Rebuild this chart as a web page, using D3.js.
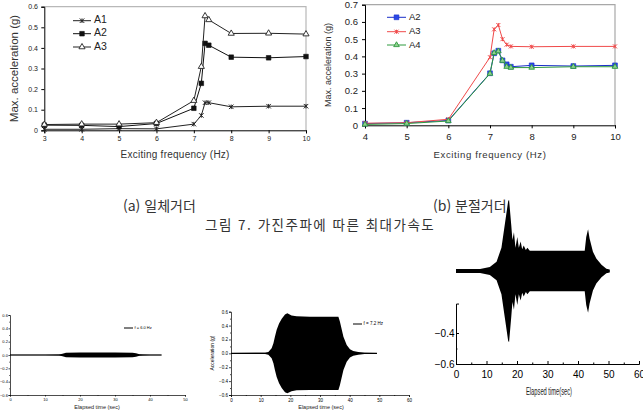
<!DOCTYPE html>
<html lang="ko">
<head>
<meta charset="UTF-8">
<title>가진주파에 따른 최대가속도</title>
<script src="https://d3js.org/d3.v7.min.js"></script>
<style>
  body { margin: 0; background: #fff; }
  svg { display: block; font-family: "Liberation Sans", Arial, sans-serif; }
  .kr { font-family: "Noto Sans CJK KR", sans-serif; }
</style>
</head>
<body>
<script>
// (a) 일체거더
const freqA = [3, 4, 5, 6, 7, 7.2, 7.3, 7.4, 8, 9, 10];
const accA1 = [0.005, 0.005, 0.008, 0.007, 0.03, 0.072, 0.134, 0.134, 0.114, 0.117, 0.117];
const accA2 = [0.025, 0.024, 0.018, 0.033, 0.107, 0.228, 0.422, 0.413, 0.355, 0.352, 0.358];
const accA3 = [0.028, 0.03, 0.03, 0.037, 0.144, 0.309, 0.555, 0.536, 0.47, 0.471, 0.467];
const xTicksA = [3, 4, 5, 6, 7, 8, 9, 10];
const yTicksA = [0, 0.1, 0.2, 0.3, 0.4, 0.5, 0.6];

// (b) 분절거더
const freqB = [4, 5, 6, 7, 7.1, 7.2, 7.3, 7.4, 7.5, 8, 9, 10];
const accB2 = [0.01, 0.015, 0.028, 0.302, 0.418, 0.433, 0.377, 0.354, 0.34, 0.348, 0.344, 0.348];
const accB3 = [0.012, 0.015, 0.035, 0.395, 0.557, 0.582, 0.5, 0.468, 0.458, 0.456, 0.458, 0.458];
const accB4 = [0.005, 0.01, 0.025, 0.3, 0.42, 0.43, 0.375, 0.34, 0.335, 0.335, 0.34, 0.34];
const xTicksB = [4, 5, 6, 7, 8, 9, 10];
const yTicksB = [0, 0.1, 0.2, 0.3, 0.4, 0.5, 0.6, 0.7];

// time histories: envelope (peak amplitude)
const timeC = [0, 10, 14, 15, 16, 20, 30, 35, 36, 37, 38, 40, 43.3];
const ampC = [0.004, 0.004, 0.006, 0.02, 0.035, 0.036, 0.036, 0.035, 0.025, 0.012, 0.008, 0.005, 0.004];
const timeD = [0, 11, 11.5, 12.6, 13.7, 14.3, 14.8, 15.4, 16.2, 17.1, 18.2, 19, 20.4, 22.1, 26.6, 36.2, 36.7, 37.9, 39, 40.1, 41.2, 42.9, 45, 49.2];
const ampD = [0.006, 0.008, 0.01, 0.02, 0.072, 0.144, 0.24, 0.34, 0.43, 0.5, 0.56, 0.576, 0.547, 0.533, 0.528, 0.528, 0.46, 0.24, 0.12, 0.058, 0.034, 0.02, 0.01, 0.006];
const timeE = [0, 7.9, 11.1, 13.3, 14.9, 16, 17.1, 17.4, 18.1, 18.5, 19, 19.5, 20.1, 20.6, 21.2, 21.7, 22.2, 22.9, 23.4, 24.2, 42.2, 42.7, 43.3, 43.8, 44.9, 46, 47.7, 49.3, 50.4];
const ampE = [0.013, 0.013, 0.026, 0.06, 0.15, 0.3, 0.45, 0.46, 0.3, 0.2, 0.25, 0.15, 0.22, 0.15, 0.19, 0.14, 0.165, 0.135, 0.15, 0.13, 0.13, 0.22, 0.27, 0.21, 0.125, 0.08, 0.04, 0.015, 0.01];
const yTicksT = [-0.6, -0.4, -0.2, 0, 0.2, 0.4, 0.6];

const svg = d3.select("body").append("svg")
    .attr("width", 643)
    .attr("height", 420);

function xMark(size) {
    const s = size / 2;
    return `M${-s},${-s}L${s},${s}M${-s},${s}L${s},${-s}M0,${-s}L0,${s}`;
}

function styleMark(sel, s) {
    if (s.mark === "x") {
        sel.attr("d", xMark(s.size)).attr("fill", "none").attr("stroke", s.color).attr("stroke-width", 1);
    } else if (s.mark === "square") {
        sel.attr("d", d3.symbol().type(d3.symbolSquare).size(s.size * s.size))
            .attr("fill", s.fill).attr("stroke", s.color).attr("stroke-width", 0.6);
    } else {
        sel.attr("d", d3.symbol().type(d3.symbolTriangle).size(s.size * s.size * 0.45))
            .attr("fill", s.fill).attr("stroke", s.color).attr("stroke-width", 0.9);
    }
}

function freqChart(o) {
    const x = d3.scaleLinear().domain(o.xDomain).range(o.xRange);
    const y = d3.scaleLinear().domain(o.yDomain).range(o.yRange);
    const g = svg.append("g");

    g.append("path")
        .attr("d", `M${o.xRange[0]},${o.yRange[1]}H${o.xRange[1]}V${o.yRange[0]}`)
        .attr("fill", "none")
        .attr("stroke", o.frame)
        .attr("stroke-width", 1.2);

    const xAxis = g.append("g")
        .attr("transform", `translate(0,${o.yRange[0]})`)
        .call(d3.axisBottom(x).tickValues(o.xTicks).tickSizeOuter(0).tickSize(3).tickPadding(o.xPad)
            .tickFormat(d3.format("d")));
    const yAxis = g.append("g")
        .attr("transform", `translate(${o.xRange[0]},0)`)
        .call(d3.axisLeft(y).tickValues(o.yTicks).tickSizeOuter(0).tickSize(3).tickPadding(o.yPad)
            .tickFormat(d => d === 0 ? "0" : d3.format(".1f")(d)));
    [xAxis, yAxis].forEach(a => {
        a.attr("font-family", null).attr("font-size", o.tickFont);
        a.selectAll("text").attr("fill", "#222");
    });

    g.append("text")
        .attr("x", (o.xRange[0] + o.xRange[1]) / 2)
        .attr("y", o.xTitleY)
        .attr("text-anchor", "middle")
        .attr("dominant-baseline", "middle")
        .attr("font-size", o.xTitleFont)
        .attr("letter-spacing", o.xTitleSpacing)
        .attr("fill", "#333")
        .text("Exciting frequency (Hz)");
    g.append("text")
        .attr("transform", `translate(${o.yTitleX},${(o.yRange[0] + o.yRange[1]) / 2}) rotate(-90)`)
        .attr("text-anchor", "middle")
        .attr("dominant-baseline", "middle")
        .attr("font-size", o.yTitleFont)
        .attr("fill", "#333")
        .text("Max. acceleration (g)");

    o.series.forEach((s, k) => {
        const pts = o.freq.map((f, i) => [f, s.values[i]]);
        g.append("path")
            .datum(pts)
            .attr("d", d3.line().x(d => x(d[0])).y(d => y(d[1])))
            .attr("fill", "none")
            .attr("stroke", s.color)
            .attr("stroke-width", 1);
        const marks = g.selectAll(null).data(pts).enter().append("path")
            .attr("transform", d => `translate(${x(d[0])},${y(d[1])})`);
        styleMark(marks, s);

        const ly = o.legendY[k];
        g.append("line")
            .attr("x1", o.legendX[0]).attr("x2", o.legendX[1])
            .attr("y1", ly).attr("y2", ly)
            .attr("stroke", s.color);
        styleMark(g.append("path").attr("transform", `translate(${(o.legendX[0] + o.legendX[1]) / 2},${ly})`), s);
        g.append("text")
            .attr("x", o.legendX[1] + 3)
            .attr("y", ly)
            .attr("dominant-baseline", "middle")
            .attr("font-size", o.legendFont)
            .attr("fill", "#222")
            .text(s.name);
    });
}

freqChart({
    freq: freqA, xDomain: [3, 10], xRange: [44.3, 306], yDomain: [0, 0.6], yRange: [130.3, 6.7],
    xTicks: xTicksA, yTicks: yTicksA, xPad: 3, yPad: 3.3, tickFont: 7, frame: "#b8b8b8",
    xTitleY: 155.5, xTitleFont: 10, xTitleSpacing: 0.25, yTitleX: 15, yTitleFont: 11.5,
    legendX: [73, 91], legendY: [20.7, 33.7, 47], legendFont: 10.5,
    series: [
        { name: "A1", values: accA1, color: "#222", mark: "x", size: 4.5 },
        { name: "A2", values: accA2, color: "#111", fill: "#111", mark: "square", size: 4.6 },
        { name: "A3", values: accA3, color: "#222", fill: "#fff", mark: "triangle", size: 6 }
    ]
});

freqChart({
    freq: freqB, xDomain: [4, 10], xRange: [365, 615], yDomain: [0, 0.7], yRange: [125.3, 4.7],
    xTicks: xTicksB, yTicks: yTicksB, xPad: 5, yPad: 4, tickFont: 9.5, frame: "#a8a8a8",
    xTitleY: 155, xTitleFont: 9.6, xTitleSpacing: 0.6, yTitleX: 329, yTitleFont: 9,
    legendX: [387, 406], legendY: [17.3, 31.7, 45], legendFont: 9.5,
    series: [
        { name: "A2", values: accB2, color: "#1a2fc8", fill: "#2a48e8", mark: "square", size: 4.8 },
        { name: "A3", values: accB3, color: "#f04a4a", mark: "x", size: 4 },
        { name: "A4", values: accB4, color: "#2f9a3e", fill: "#8fd08f", mark: "triangle", size: 5.5 }
    ]
});

// captions
svg.append("text").attr("class", "kr")
    .attr("x", 123).attr("y", 207)
    .attr("dominant-baseline", "middle")
    .attr("font-size", 14).attr("fill", "#333")
    .text("(a) 일체거더");
svg.append("text").attr("class", "kr")
    .attr("x", 433).attr("y", 207)
    .attr("dominant-baseline", "middle")
    .attr("font-size", 14).attr("fill", "#333")
    .text("(b) 분절거더");
svg.append("text").attr("class", "kr")
    .attr("x", 205).attr("y", 226)
    .attr("dominant-baseline", "middle")
    .attr("font-size", 13.5).attr("letter-spacing", 1.5).attr("fill", "#333")
    .text("그림 7. 가진주파에 따른 최대가속도");

function timeChart(o) {
    const x = d3.scaleLinear().domain(o.xDomain).range(o.xRange);
    const y = d3.scaleLinear().domain([-0.6, 0.6]).range(o.yRange);
    const g = svg.append("g");
    const pts = o.time.map((t, i) => [t, o.amp[i]]);

    g.append("path")
        .datum(pts)
        .attr("d", d3.area().x(d => x(d[0])).y0(d => y(-d[1])).y1(d => y(d[1])))
        .attr("fill", "#000");
    g.append("line")
        .attr("x1", x(o.time[0])).attr("x2", x(o.time[o.time.length - 1]))
        .attr("y1", y(0)).attr("y2", y(0))
        .attr("stroke", "#000").attr("stroke-width", o.baseW);

    // right-hand plot only shows the lower part of its y axis
    const yAx = o.yAxisDomain ? d3.scaleLinear().domain(o.yAxisDomain).range(o.yAxisDomain.map(y)) : y;
    const xTicks = d3.range(o.xDomain[0], o.xDomain[1] + 1, 10);
    const xMinor = d3.range(o.xDomain[0] + 5, o.xDomain[1], 10);
    const yTicks = o.yTicks.filter(v => v >= yAx.domain()[0] - 1e-9 && v <= yAx.domain()[1] + 1e-9);
    const yMinor = yTicks.slice(0, -1).map(v => v + 0.1).filter(v => v <= yAx.domain()[1]);

    const gx = g.append("g").attr("transform", `translate(0,${o.yRange[0]})`);
    gx.call(d3.axisBottom(x).tickValues(xTicks).tickSizeOuter(0).tickSize(o.tick).tickPadding(o.xPad));
    gx.append("g").call(d3.axisBottom(x).tickValues(xMinor).tickFormat("").tickSizeOuter(0).tickSize(o.tick / 2))
        .select(".domain").remove();
    const gy = g.append("g").attr("transform", `translate(${o.xRange[0]},0)`);
    gy.call(d3.axisLeft(yAx).tickValues(yTicks).tickSizeOuter(0).tickSize(o.tick).tickPadding(o.yPad)
        .tickFormat(d3.format(".1f")));
    gy.append("g").call(d3.axisLeft(yAx).tickValues(yMinor).tickFormat("").tickSizeOuter(0).tickSize(o.tick / 2))
        .select(".domain").remove();
    [gx, gy].forEach(a => {
        a.attr("font-family", o.font).attr("font-size", o.tickFont);
        a.selectAll("path, line").attr("stroke-width", o.axisW);
    });

    const title = g.append("text")
        .attr("x", o.titlePos[0]).attr("y", o.titlePos[1])
        .attr("text-anchor", "middle")
        .attr("dominant-baseline", "middle")
        .attr("font-family", o.font)
        .attr("font-size", o.titleFont)
        .attr("fill", "#222")
        .text(o.title);
    if (o.titleLen) title.attr("textLength", o.titleLen).attr("lengthAdjust", "spacingAndGlyphs");

    if (o.yTitle) {
        g.append("text")
            .attr("transform", `translate(${o.yTitle[0]},${o.yTitle[1]}) rotate(-90)`)
            .attr("text-anchor", "middle")
            .attr("dominant-baseline", "middle")
            .attr("font-size", o.titleFont - 0.5)
            .text("Acceleration (g)");
    }
    if (o.legend) {
        const [lx, ly] = o.legend;
        g.append("line").attr("x1", lx).attr("x2", lx + 9).attr("y1", ly).attr("y2", ly)
            .attr("stroke", "#000").attr("stroke-width", 1);
        g.append("text").attr("x", lx + 10.5).attr("y", ly)
            .attr("dominant-baseline", "middle")
            .attr("font-size", o.tickFont)
            .text(o.legendText);
    }
}

timeChart({
    time: timeC, amp: ampC, xDomain: [0, 50], xRange: [10, 185], yRange: [395, 315], yTicks: yTicksT,
    tick: 1.5, xPad: 1.5, yPad: 0.6, tickFont: 4, axisW: 0.7, baseW: 1.2, font: "Liberation Sans",
    title: "Elapsed time (sec)", titlePos: [97, 408], titleFont: 5.5,
    legend: [124, 328], legendText: "f = 6.0 Hz"
});

timeChart({
    time: timeD, amp: ampD, xDomain: [0, 60], xRange: [231, 409], yRange: [395, 311.7], yTicks: yTicksT,
    tick: 2, xPad: 1.5, yPad: 1, tickFont: 4.5, axisW: 0.7, baseW: 1.1, font: "Liberation Sans",
    title: "Elapsed time (sec)", titlePos: [321, 407.5], titleFont: 5.5, yTitle: [213, 353],
    legend: [353, 324], legendText: "f = 7.2 Hz"
});

timeChart({
    time: timeE, amp: ampE, xDomain: [0, 60], xRange: [456, 639], yRange: [364, 178], yTicks: yTicksT,
    yAxisDomain: [-0.6, -0.21],
    tick: -3, xPad: 7, yPad: 1.5, tickFont: 10, axisW: 1, baseW: 1.2, font: "Liberation Sans",
    title: "Elapsed time(sec)", titlePos: [549, 392], titleFont: 10, titleLen: 46
});
</script>
</body>
</html>
